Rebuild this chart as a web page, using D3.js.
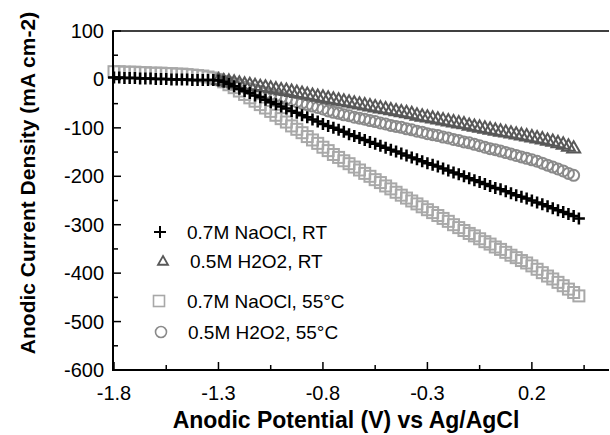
<!DOCTYPE html>
<html>
<head>
<meta charset="utf-8">
<script src="https://cdn.jsdelivr.net/npm/d3@7"></script>
<style>
  html, body { margin: 0; padding: 0; background: #fff; }
  svg { display: block; font-family: "Liberation Sans", Arial, sans-serif; }
</style>
</head>
<body>
<svg id="chart" width="610" height="435"></svg>
<script>
// Potentials (V vs Ag/AgCl), one per recorded point
const potential = [
  -1.800, -1.775, -1.750, -1.725, -1.700, -1.675, -1.650, -1.625, -1.600, -1.575,
  -1.550, -1.525, -1.500, -1.475, -1.450, -1.425, -1.400, -1.375, -1.350, -1.325,
  -1.300, -1.275, -1.250, -1.225, -1.200, -1.175, -1.150, -1.125, -1.100, -1.075,
  -1.050, -1.025, -1.000, -0.975, -0.950, -0.925, -0.900, -0.875, -0.850, -0.825,
  -0.800, -0.775, -0.750, -0.725, -0.700, -0.675, -0.650, -0.625, -0.600, -0.575,
  -0.550, -0.525, -0.500, -0.475, -0.450, -0.425, -0.400, -0.375, -0.350, -0.325,
  -0.300, -0.275, -0.250, -0.225, -0.200, -0.175, -0.150, -0.125, -0.100, -0.075,
  -0.050, -0.025, 0.000, 0.025, 0.050, 0.075, 0.100, 0.125, 0.150, 0.175,
  0.200, 0.225, 0.250, 0.275, 0.300, 0.325, 0.350, 0.375, 0.400, 0.425
];

// 0.7M NaOCl, RT (starts at -1.8 V)
const naoclRT = [
  4, 4, 3, 3, 3, 2, 2, 2, 1, 1,
  1, 0, 0, 0, 0, -1, -1, -1, -1, -1,
  -2, -5, -9, -14, -19, -24, -28, -33, -37, -42,
  -47, -51, -56, -60, -65, -69, -74, -78, -83, -87,
  -92, -96, -100, -104, -108, -113, -117, -121, -125, -129,
  -133, -137, -141, -145, -149, -153, -157, -161, -165, -169,
  -173, -176, -180, -184, -188, -192, -196, -200, -204, -208,
  -212, -216, -220, -224, -227, -231, -235, -239, -242, -246,
  -250, -254, -258, -262, -266, -270, -274, -278, -282, -287
];

// 0.7M NaOCl, 55°C (starts at -1.8 V)
const naocl55 = [
  16, 16, 15, 15, 15, 14, 14, 13, 13, 13,
  12, 12, 11, 11, 10, 9, 8, 7, 5, 3,
  0, -5, -11, -17, -24, -31, -38, -45, -52, -59,
  -66, -74, -81, -88, -96, -103, -110, -118, -125, -132,
  -140, -147, -155, -161, -168, -174, -181, -187, -194, -200,
  -207, -213, -220, -226, -233, -239, -245, -251, -257, -263,
  -269, -275, -281, -287, -293, -300, -306, -312, -318, -323,
  -329, -335, -340, -346, -351, -357, -363, -368, -374, -379,
  -385, -392, -399, -406, -412, -419, -426, -433, -440, -447
];

// 0.5M H2O2, RT (starts at -1.3 V, index 20)
const h2o2RT = [
  0, -2, -3, -5, -7, -9, -10, -12, -14, -15,
  -17, -19, -21, -22, -24, -26, -28, -30, -32, -34,
  -36, -38, -40, -42, -44, -46, -48, -50, -52, -54,
  -56, -58, -60, -62, -64, -66, -68, -70, -73, -75,
  -77, -79, -81, -83, -85, -87, -89, -91, -94, -96,
  -98, -100, -102, -104, -106, -108, -110, -112, -114, -116,
  -118, -120, -122, -125, -127, -130, -133, -137, -141
];

// 0.5M H2O2, 55°C (starts at -1.3 V, index 20)
const h2o255 = [
  0, -3, -6, -9, -12, -16, -19, -22, -25, -28,
  -31, -34, -37, -40, -43, -46, -49, -52, -55, -58,
  -61, -65, -68, -70, -73, -75, -78, -80, -82, -85,
  -87, -90, -92, -95, -97, -99, -102, -104, -107, -109,
  -112, -114, -116, -119, -121, -124, -126, -129, -131, -134,
  -137, -140, -143, -145, -148, -151, -154, -157, -160, -163,
  -166, -169, -173, -177, -181, -185, -189, -194, -198
];

const seriesNames = ["0.7M NaOCl, RT", "0.5M H2O2, RT", "0.7M NaOCl, 55°C", "0.5M H2O2, 55°C"];
const h2o2Start = 20;

const xTicks = [-1.8, -1.3, -0.8, -0.3, 0.2];
const xTickLabels = ["-1.8", "-1.3", "-0.8", "-0.3", "0.2"];
const xMinorTicks = [-1.55, -1.05, -0.55, -0.05, 0.45];
const yTicks = [100, 0, -100, -200, -300, -400, -500, -600];
const yTickLabels = ["100", "0", "-100", "-200", "-300", "-400", "-500", "-600"];
const yMinorTicks = [50, -50, -150, -250, -350, -450, -550];

const svg = d3.select("#chart");

const x = d3.scaleLinear().domain([-1.8, 0.55]).range([114, 605]);
const y = d3.scaleLinear().domain([-600, 100]).range([370, 31]);

function pts(vals, start) {
  return vals.map((v, i) => ({ x: potential[start + i], y: v }));
}

const plot = svg.append("g");

// marker drawing helpers
function square(g, cx, cy, color, sw = 2) {
  g.append("rect").attr("x", cx - 5.5).attr("y", cy - 5.5).attr("width", 11).attr("height", 11)
    .attr("fill", "none").attr("stroke", color).attr("stroke-width", sw);
}
function circle(g, cx, cy, color, sw = 2) {
  g.append("circle").attr("cx", cx).attr("cy", cy).attr("r", 5.5)
    .attr("fill", "none").attr("stroke", color).attr("stroke-width", sw);
}
function triangle(g, cx, cy, color, s = 6.5, sw = 2) {
  g.append("path")
    .attr("d", `M${cx},${cy - s}L${cx + s},${cy + s * 0.75}L${cx - s},${cy + s * 0.75}Z`)
    .attr("fill", "none").attr("stroke", color).attr("stroke-width", sw);
}
function plus(g, cx, cy, color, s = 6, sw = 2.5) {
  g.append("path")
    .attr("d", `M${cx - s},${cy}H${cx + s}M${cx},${cy - s}V${cy + s}`)
    .attr("fill", "none").attr("stroke", color).attr("stroke-width", sw);
}

const sqColor = "#a8a8a8", ciColor = "#8a8a8a", trColor = "#585858", plColor = "#000";

pts(naocl55, 0).forEach(d => square(plot, x(d.x), y(d.y), sqColor));
pts(h2o255, h2o2Start).forEach(d => circle(plot, x(d.x), y(d.y), ciColor));
pts(h2o2RT, h2o2Start).forEach(d => triangle(plot, x(d.x), y(d.y), trColor));
pts(naoclRT, 0).forEach(d => plus(plot, x(d.x), y(d.y), plColor));

// axes frame
const ax = svg.append("g").attr("stroke", "#000");
ax.append("line").attr("x1", 113).attr("x2", 113).attr("y1", y(100)).attr("y2", 371).attr("stroke-width", 2);
ax.append("line").attr("x1", 112).attr("x2", 609).attr("y1", 370).attr("y2", 370).attr("stroke-width", 2);
ax.append("line").attr("x1", 112).attr("x2", 609).attr("y1", y(100)).attr("y2", y(100)).attr("stroke-width", 1.5);

// ticks, pointing inside
xTicks.forEach(t => ax.append("line").attr("x1", x(t)).attr("x2", x(t)).attr("y1", 370).attr("y2", 362).attr("stroke-width", 1.5));
xMinorTicks.forEach(t => ax.append("line").attr("x1", x(t)).attr("x2", x(t)).attr("y1", 370).attr("y2", 365).attr("stroke-width", 1.5));
yTicks.forEach(t => ax.append("line").attr("x1", 113).attr("x2", 121).attr("y1", y(t)).attr("y2", y(t)).attr("stroke-width", 1.5));
yMinorTicks.forEach(t => ax.append("line").attr("x1", 113).attr("x2", 118).attr("y1", y(t)).attr("y2", y(t)).attr("stroke-width", 1.5));

// tick labels
svg.append("g").selectAll("text").data(xTicks).join("text")
  .attr("x", d => x(d)).attr("y", 400)
  .attr("text-anchor", "middle").attr("font-size", 20)
  .text((d, i) => xTickLabels[i]);

svg.append("g").selectAll("text").data(yTicks).join("text")
  .attr("x", 104).attr("y", d => y(d) + 7)
  .attr("text-anchor", "end").attr("font-size", 20)
  .text((d, i) => yTickLabels[i]);

// axis titles
svg.append("text").attr("x", 346).attr("y", 428).attr("text-anchor", "middle")
  .attr("font-size", 23).attr("font-weight", "bold")
  .text("Anodic Potential (V) vs Ag/AgCl");
svg.append("text").attr("transform", "translate(35,183) rotate(-90)").attr("text-anchor", "middle")
  .attr("font-size", 21).attr("font-weight", "bold")
  .text("Anodic Current Density (mA cm-2)");

// legend
const leg = svg.append("g");
const legRows = [
  { y: 232, tx: 187, draw: (g, cy) => plus(g, 160, cy, plColor, 6, 2) },
  { y: 261, tx: 190, draw: (g, cy) => triangle(g, 163, cy, trColor, 5, 1.8) },
  { y: 301, tx: 187, draw: (g, cy) => square(g, 159, cy, sqColor, 1.6) },
  { y: 332, tx: 188, draw: (g, cy) => circle(g, 161, cy, ciColor, 1.6) }
];
legRows.forEach((r, i) => {
  r.draw(leg, r.y);
  leg.append("text").attr("x", r.tx).attr("y", r.y + 7).attr("font-size", 19).text(seriesNames[i]);
});
</script>
</body>
</html>
